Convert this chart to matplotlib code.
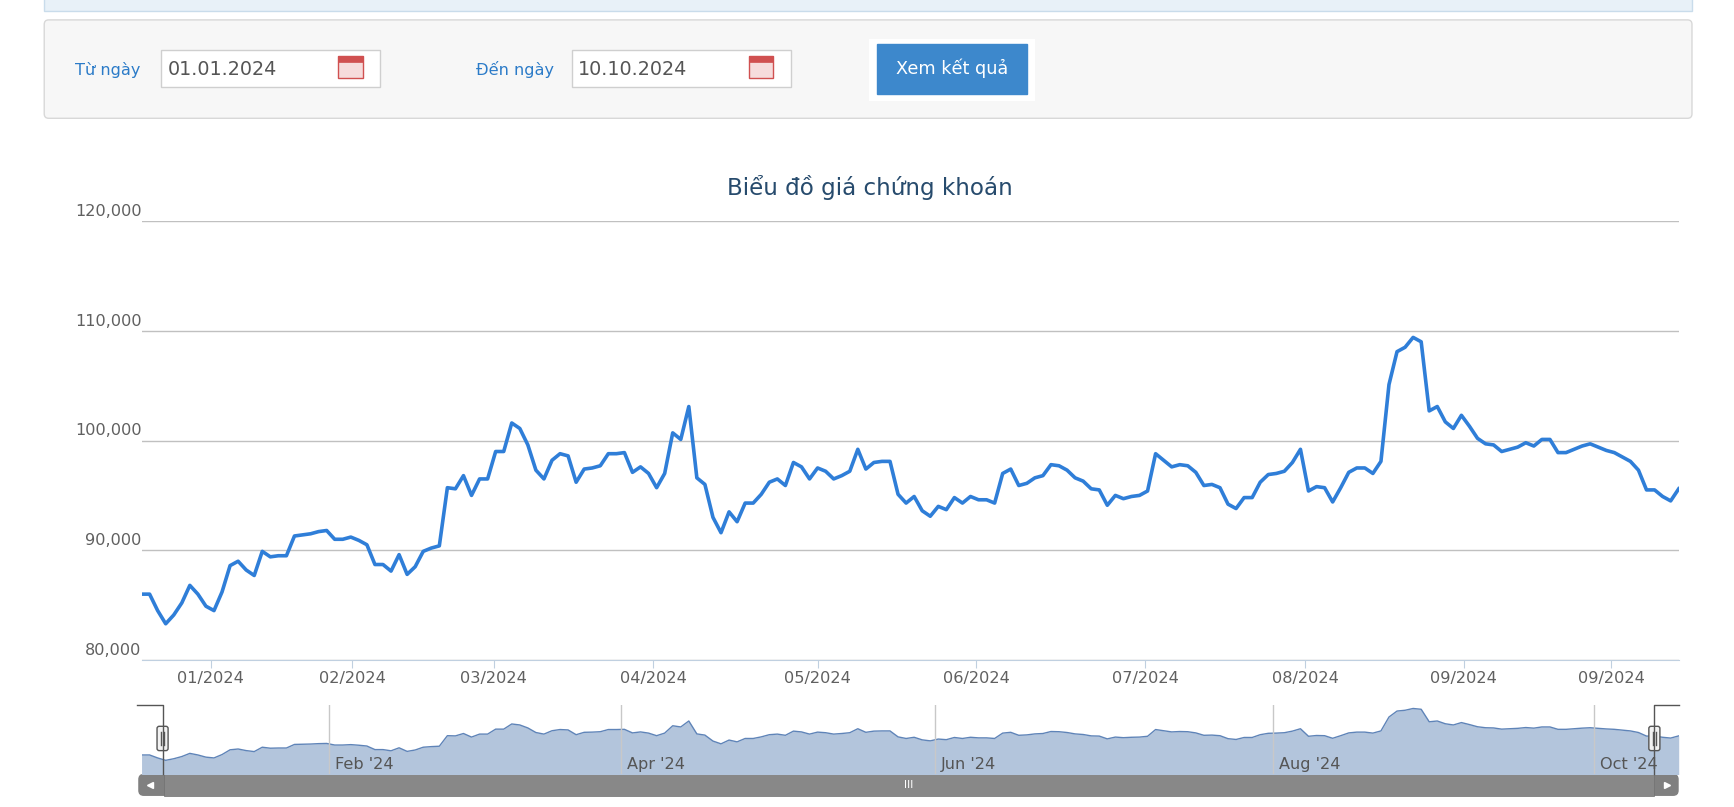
import matplotlib
matplotlib.use("Agg")
import matplotlib.pyplot as plt
from matplotlib.patches import Rectangle, FancyBboxPatch
import numpy as np

W, H = 1568, 730  # reference layout units
K = 1734 / 1568
prices = [86.0, 86.0, 84.5, 83.3, 84.1, 85.2, 86.8, 86.0, 84.9, 84.5, 86.2, 88.6, 89.0, 88.2, 87.7, 89.9,
          89.4, 89.5, 89.5, 91.3, 91.4, 91.5, 91.7, 91.8, 91.0, 91.0, 91.2, 90.9, 90.5, 88.7, 88.7, 88.1,
          89.6, 87.8, 88.5, 89.9, 90.2, 90.4, 95.7, 95.6, 96.8, 95.0, 96.5, 96.5, 99.0, 99.0, 101.6, 101.1,
          99.6, 97.3, 96.5, 98.2, 98.8, 98.6, 96.2, 97.4, 97.5, 97.7, 98.8, 98.8, 98.9, 97.1, 97.6, 97.0,
          95.7, 97.0, 100.7, 100.1, 103.1, 96.6, 96.0, 93.0, 91.6, 93.5, 92.6, 94.3, 94.3, 95.1, 96.2, 96.5,
          95.9, 98.0, 97.6, 96.5, 97.5, 97.2, 96.5, 96.8, 97.2, 99.2, 97.4, 98.0, 98.1, 98.1, 95.1, 94.3,
          94.9, 93.6, 93.1, 94.0, 93.7, 94.8, 94.3, 94.9, 94.6, 94.6, 94.3, 97.0, 97.4, 95.9, 96.1, 96.6,
          96.8, 97.8, 97.7, 97.3, 96.6, 96.3, 95.6, 95.5, 94.1, 95.0, 94.7, 94.9, 95.0, 95.4, 98.8, 98.2,
          97.6, 97.8, 97.7, 97.1, 95.9, 96.0, 95.7, 94.2, 93.8, 94.8, 94.8, 96.2, 96.9, 97.0, 97.2, 98.0,
          99.2, 95.4, 95.8, 95.7, 94.4, 95.7, 97.1, 97.5, 97.5, 97.0, 98.1, 105.1, 108.1, 108.5, 109.4, 109.0,
          102.7, 103.1, 101.7, 101.1, 102.3, 101.3, 100.2, 99.7, 99.6, 99.0, 99.2, 99.4, 99.8, 99.5, 100.1,
          100.1, 98.9, 98.9, 99.2, 99.5, 99.7, 99.4, 99.1, 98.9, 98.5, 98.1, 97.3, 95.5, 95.5, 94.9, 94.5, 95.6]
values = [p * 1000 for p in prices]
yticks = [80000, 90000, 100000, 110000, 120000]
xtick_labels = ["01/2024", "02/2024", "03/2024", "04/2024", "05/2024", "06/2024", "07/2024", "08/2024", "09/2024", "09/2024"]
xtick_frac = [0.045, 0.137, 0.229, 0.333, 0.44, 0.543, 0.653, 0.757, 0.86, 0.956]
nav_labels = ["Feb '24", "Apr '24", "Jun '24", "Aug '24", "Oct '24"]
nav_frac = [0.122, 0.312, 0.516, 0.736, 0.945]

N = len(values)
x = np.arange(N)

def fs(s):
    return s * K

fig = plt.figure(figsize=(1734 / 100, 807 / 100), dpi=100)
bg = fig.add_axes([0, 0, 1, 1])
bg.set_xlim(0, W); bg.set_ylim(H, 0); bg.axis("off")

bg.add_patch(Rectangle((40, -2), 1490, 12, fc="#e8f1f8", ec="#c9dceb", lw=1))
bg.add_patch(FancyBboxPatch((40, 18), 1490, 89, boxstyle="round,pad=0,rounding_size=4", fc="#f7f7f7", ec="#d8d8d8", lw=1))
blue = "#2b7bc8"
bg.text(68, 63, "Từ ngày", color=blue, fontsize=fs(10.5), va="center")
bg.text(430, 63, "Đến ngày", color=blue, fontsize=fs(10.5), va="center")
for x0, txt in [(146, "01.01.2024"), (517, "10.10.2024")]:
    bg.add_patch(Rectangle((x0, 45), 198, 34, fc="white", ec="#cfcfcf", lw=1))
    bg.text(x0 + 6, 63, txt, color="#555555", fontsize=fs(12.5), va="center")
    ix = x0 + 160
    bg.add_patch(Rectangle((ix, 51), 22, 20, fc="#f6dcdc", ec="#d05050", lw=1))
    bg.add_patch(Rectangle((ix, 51), 22, 5, fc="#d05050", ec="#d05050", lw=0.5))
bg.add_patch(Rectangle((786, 35), 150, 56, fc="white", ec="none"))
bg.add_patch(Rectangle((793, 40), 136, 45, fc="#3d88cc", ec="#3d88cc"))
bg.text(861, 62, "Xem kết quả", color="white", fontsize=fs(11.5), ha="center", va="center")

bg.text(787, 170, "Biểu đồ giá chứng khoán", color="#274b6d", fontsize=fs(15), ha="center", va="center")

L, R, T, B = 128, 1518, 200, 597
ax = fig.add_axes([L / W, 1 - B / H, (R - L) / W, (B - T) / H])
ax.set_facecolor("none")
ax.plot(x, values, color="#2f7ed8", lw=2.6)
ax.set_xlim(0, N - 1); ax.set_ylim(80000, 120000)
for s in ["top", "right", "left"]:
    ax.spines[s].set_visible(False)
ax.spines["bottom"].set_color("#c0d0e0")
ax.set_yticks(yticks)
ax.yaxis.grid(True, color="#c0c0c0", lw=1)
ax.tick_params(axis="y", length=0, labelleft=False)
for v in yticks:
    ax.text(0.0, v + 200, f"{v:,}", transform=ax.get_yaxis_transform(), ha="right", va="bottom", color="#606060", fontsize=fs(10.5))
xt = [f * (N - 1) for f in xtick_frac]
ax.set_xticks(xt)
ax.set_xticklabels(xtick_labels, color="#606060", fontsize=fs(10.5))
ax.tick_params(axis="x", length=6, color="#c0d0e0", pad=2)

nT, nB = 638, 700
nav = fig.add_axes([L / W, 1 - nB / H, (R - L) / W, (nB - nT) / H])
nav.fill_between(x, 75000, values, color="#b3c5dc", lw=0)
nav.plot(x, values, color="#5f84b8", lw=1)
nav.set_xlim(0, N - 1); nav.set_ylim(76500, 111000)
nav.set_xticks([]); nav.set_yticks([])
for s in nav.spines.values():
    s.set_visible(False)
for f, lab in zip(nav_frac, nav_labels):
    nav.axvline(f * (N - 1), color="#c8c8c8", lw=1)
    nav.text(f * (N - 1) + 0.7, 81000, lab, color="#555555", fontsize=fs(10.5), va="center")

bg.add_patch(FancyBboxPatch((125, 700), 1393, 20, boxstyle="round,pad=0,rounding_size=5", fc="#808080", ec="none"))
bg.add_patch(Rectangle((148, 700), 1348, 20, fc="#888888", ec="#707070", lw=0.5))
bg.text(822, 710, "III", color="white", fontsize=fs(7), ha="center", va="center")
bg.plot([136], [710], marker="<", color="white", ms=4)
bg.plot([1507], [710], marker=">", color="white", ms=4)

hb = fig.add_axes([0, 0, 1, 1], zorder=10)
hb.set_xlim(0, W); hb.set_ylim(H, 0); hb.axis("off")
hb.plot([124, 147, 147], [638, 638, 700], color="#555555", lw=1)
hb.plot([1518, 1496, 1496], [638, 638, 700], color="#555555", lw=1)
for hx in [147, 1496]:
    hb.add_patch(FancyBboxPatch((hx - 5, 657), 10, 22, boxstyle="round,pad=0,rounding_size=2", fc="#f2f2f2", ec="#555555", lw=1))
    hb.plot([hx - 1.5, hx - 1.5], [662, 674], color="#555555", lw=1)
    hb.plot([hx + 1.5, hx + 1.5], [662, 674], color="#555555", lw=1)

fig.savefig("out.png", dpi=100)
